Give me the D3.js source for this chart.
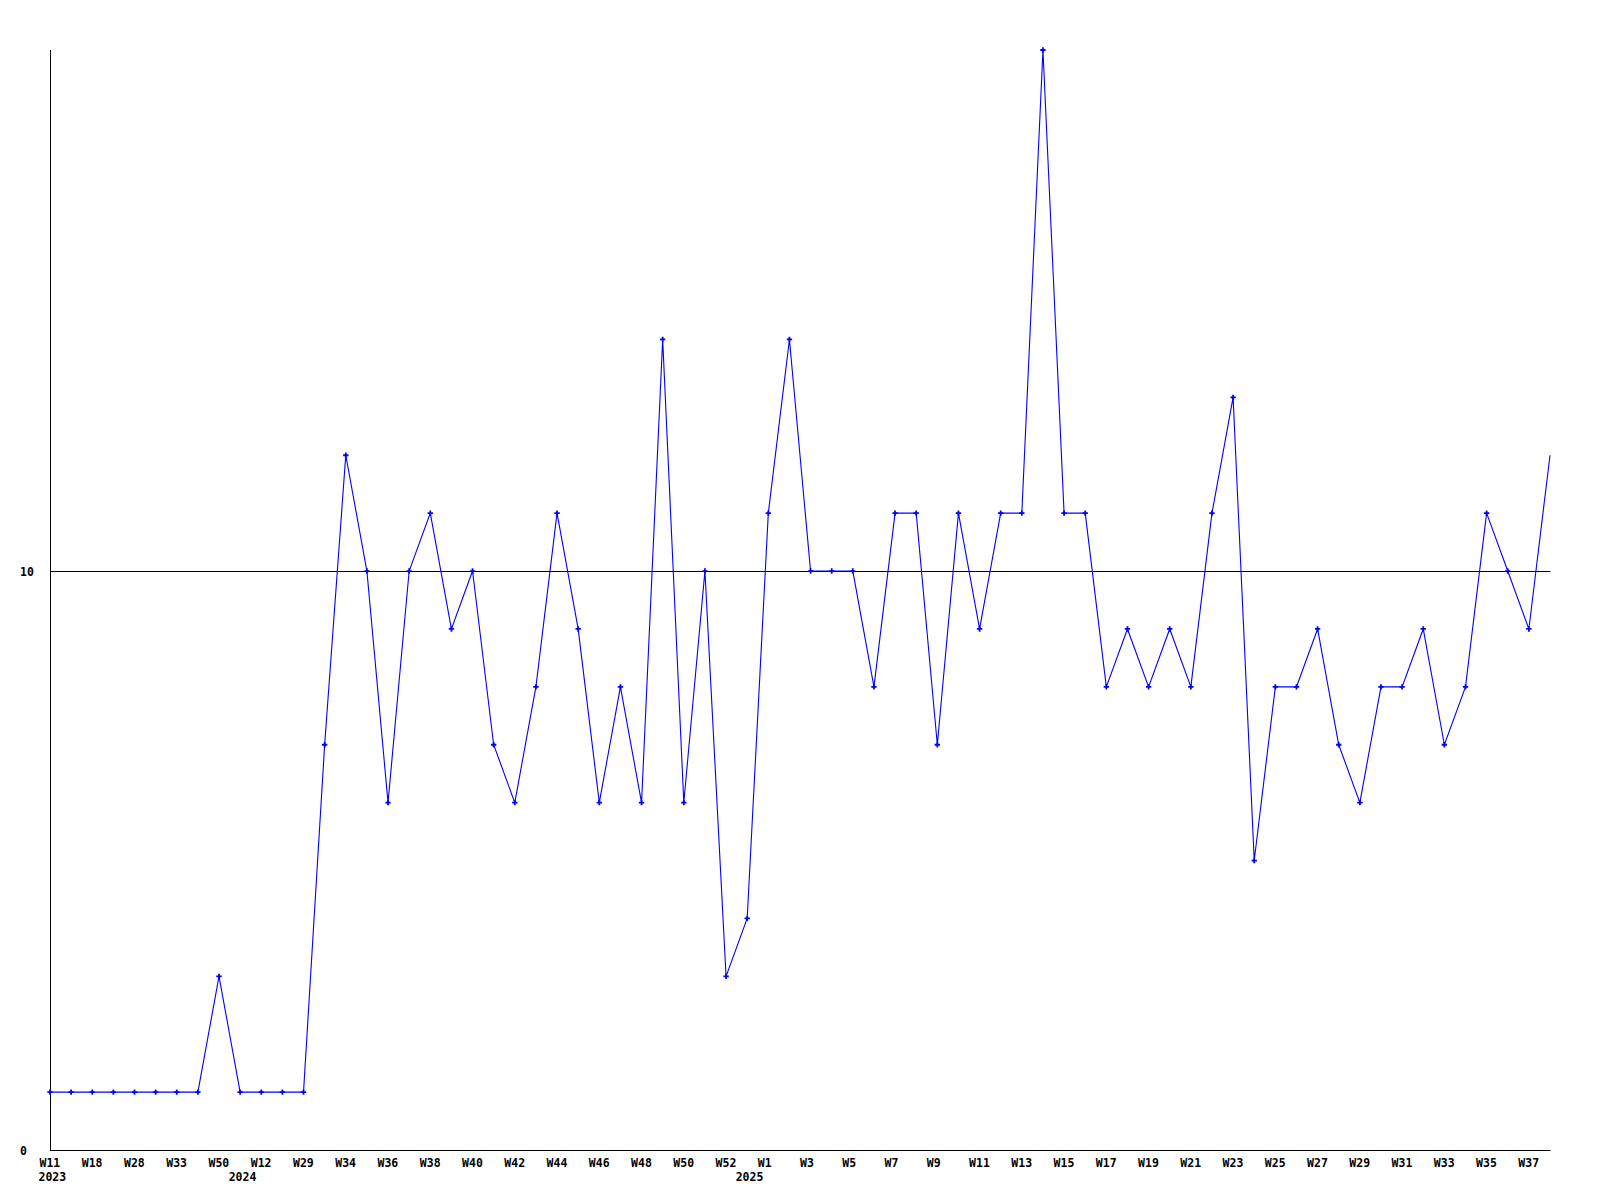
<!DOCTYPE html>
<html>
<head>
<meta charset="utf-8">
<script src="https://cdn.jsdelivr.net/npm/d3@7"></script>
<style>
  html, body { margin: 0; padding: 0; background: #fff; }
  text { font-family: "DejaVu Sans Mono", "Liberation Mono", monospace; font-weight: bold; font-size: 11.5px; fill: #000; }
</style>
</head>
<body>
<svg id="chart" width="1600" height="1200"></svg>
<script>
// ---- data ----
const weeks = ["W11","W14","W18","W23","W28","W30","W33","W42","W50","W2","W12","W20","W29","W31",
  "W34","W35","W36","W37","W38","W39","W40","W41","W42","W43","W44","W45","W46","W47","W48","W49","W50","W51","W52",
  "W0","W1","W2","W3","W4","W5","W6","W7","W8","W9","W10","W11","W12","W13","W14","W15","W16","W17","W18","W19","W20",
  "W21","W22","W23","W24","W25","W26","W27","W28","W29","W30","W31","W32","W33","W34","W35","W36","W37","W38"];
const years = [2023,2023,2023,2023,2023,2023,2023,2023,2023,2024,2024,2024,2024,2024,
  2024,2024,2024,2024,2024,2024,2024,2024,2024,2024,2024,2024,2024,2024,2024,2024,2024,2024,2024,
  2025,2025,2025,2025,2025,2025,2025,2025,2025,2025,2025,2025,2025,2025,2025,2025,2025,2025,2025,2025,2025,
  2025,2025,2025,2025,2025,2025,2025,2025,2025,2025,2025,2025,2025,2025,2025,2025,2025,2025];
const values = [1,1,1,1,1,1,1,1,3,1,1,1,1,7,12,10,6,10,11,9,10,7,6,8,11,9,6,8,6,14,6,10,3,4,
  11,14,10,10,10,8,11,11,7,11,9,11,11,19,11,11,8,9,8,9,8,11,13,5,8,8,9,7,6,8,8,9,7,8,11,10,9,12];
const yTicks = [0, 10];
const yMax = 19;

// ---- layout ----
const svg = d3.select("#chart");
const pL = 50, pR = 1550, pT = 50, pB = 1150;

const x = d3.scaleLinear().domain([0, values.length - 1]).range([pL, pR]);
const y = d3.scaleLinear().domain([0, yMax]).range([pB, pT]);

// gridline(s) at non-zero ticks
svg.selectAll("line.grid").data(yTicks.filter(t => t !== 0)).enter().append("line")
  .attr("x1", pL).attr("x2", pR + 0.5)
  .attr("y1", d => Math.round(y(d)) + 0.5).attr("y2", d => Math.round(y(d)) + 0.5)
  .attr("stroke", "#000").attr("stroke-width", 1);

// axes lines
svg.append("line").attr("x1", pL + 0.5).attr("x2", pL + 0.5).attr("y1", pT).attr("y2", pB + 0.5)
  .attr("stroke", "#000").attr("stroke-width", 1);
svg.append("line").attr("x1", pL).attr("x2", pR + 0.5).attr("y1", pB + 0.5).attr("y2", pB + 0.5)
  .attr("stroke", "#000").attr("stroke-width", 1);

// y labels
svg.selectAll("text.ylab").data(yTicks).enter().append("text")
  .attr("x", 20).attr("y", d => y(d) + 4.5).text(d => d);

// x labels (every other point), drawn from a fixed left offset
const idx = d3.range(values.length);
svg.selectAll("text.xlab").data(idx.filter(i => i % 2 === 0)).enter().append("text")
  .attr("x", i => x(i) - 10.5).attr("y", 1167).text(i => weeks[i]);

// year labels where year changes
svg.selectAll("text.year").data(idx.filter(i => i === 0 || years[i] !== years[i - 1])).enter().append("text")
  .attr("x", i => x(i) - 11.5).attr("y", 1181).text(i => years[i]);

// line
const line = d3.line().x((d, i) => x(i)).y(d => y(d));
svg.append("path").datum(values).attr("d", line)
  .attr("fill", "none").attr("stroke", "#0000ff").attr("stroke-width", 1.1);

// markers (not on last, incomplete point)
const sym = d3.symbol().type(d3.symbolCross).size(16);
svg.selectAll("path.mk").data(values.slice(0, -1)).enter().append("path")
  .attr("d", sym)
  .attr("transform", (d, i) => `translate(${x(i)},${y(d)})`)
  .attr("fill", "#0000ff");
</script>
</body>
</html>
